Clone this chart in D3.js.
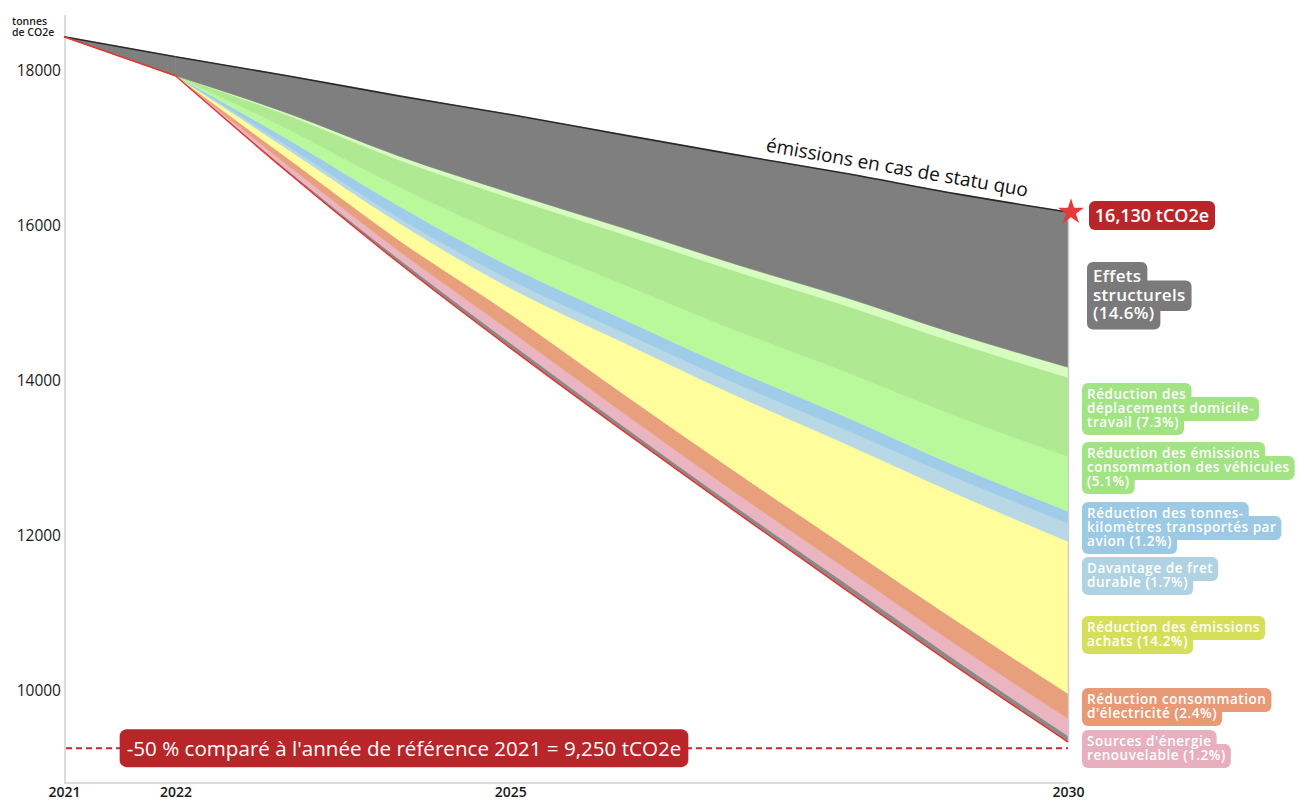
<!DOCTYPE html>
<html><head><meta charset="utf-8">
<script src="https://cdn.jsdelivr.net/npm/d3@7"></script>
<style>body{margin:0;background:#fff}svg{display:block}text{font-family:"Open Sans",sans-serif}</style>
</head><body><svg id="c" width="1304" height="801"></svg>
<script>
// ---- data (tonnes CO2e) ----
const years = [2021, 2022, 2023, 2024, 2025, 2026, 2027, 2028, 2029, 2030];
const remaining          = [18440, 17935, 16695, 15520, 14420, 13360, 12325, 11305, 10300, 9330];
const residualGray       = [0, 0, 25, 50, 65, 65, 65, 80, 80, 80];
const renewables         = [0, 0, 65, 105, 155, 170, 180, 195, 205, 220];
const electricity        = [0, 0, 90, 140, 220, 245, 270, 285, 310, 325];
const purchases          = [0, 0, 115, 220, 335, 660, 980, 1320, 1640, 1965];
const sustainableFreight = [0, 0, 40, 65, 105, 130, 155, 180, 205, 235];
const airFreight         = [0, 0, 90, 155, 170, 170, 170, 170, 155, 155];
const vehicles           = [0, 0, 130, 245, 375, 450, 515, 580, 645, 710];
const commuting          = [0, 0, 180, 350, 515, 645, 760, 855, 945, 1020];
const otherGreen         = [0, 0, 25, 50, 65, 80, 90, 105, 115, 130];
const structural         = [0, 245, 480, 775, 1010, 1200, 1410, 1600, 1810, 2005];
const yTicks = [10000, 12000, 14000, 16000, 18000];
const xTicks = [2021, 2022, 2025, 2030];
const target = 9250;
const statusQuoLabel = "16,130 tCO2e";
const targetLabel = "-50 % comparé à l'année de référence 2021 = 9,250 tCO2e";
const labels = [
  {lines:["Réduction des","déplacements domicile-","travail (7.3%)"], color:"#a2e384", top:383},
  {lines:["Réduction des émissions","consommation des véhicules","(5.1%)"], color:"#a2e384", top:442},
  {lines:["Réduction des tonnes-","kilomètres transportés par","avion  (1.2%)"], color:"#9cc9e3", top:502},
  {lines:["Davantage de fret","durable (1.7%)"], color:"#b0d3e3", top:557},
  {lines:["Réduction des émissions","achats (14.2%)"], color:"#d6df5a", top:616},
  {lines:["Réduction consommation","d'électricité (2.4%)"], color:"#e89a77", top:688},
  {lines:["Sources d'énergie","renouvelable (1.2%)"], color:"#e8b0bf", top:730}
];

const keys = ["remaining","residualGray","renewables","electricity","purchases","sustainableFreight","airFreight","vehicles","commuting","otherGreen","structural"];
const series = {remaining, residualGray, renewables, electricity, purchases, sustainableFreight, airFreight, vehicles, commuting, otherGreen, structural};
const colors = {residualGray:"#8a8a8a", renewables:"#ebb4c1", electricity:"#e89f7c", purchases:"#fffd9c",
  sustainableFreight:"#b8d8e6", airFreight:"#9fcce9", vehicles:"#b9f99b", commuting:"#afe991",
  otherGreen:"#d6fcc0", structural:"#7f7f7f"};

const table = years.map((yr, i) => { const o = {year: yr}; keys.forEach(k => o[k] = series[k][i]); return o; });
const stacked = d3.stack().keys(keys)(table);

const svg = d3.select("#c");
const x = d3.scaleLinear().domain([2021, 2030]).range([64, 1068]);
const y = d3.scaleLinear().domain([8800, 18720]).range([783, 15]);

// axes lines
svg.append("line").attr("x1",65).attr("x2",65).attr("y1",15).attr("y2",784).attr("stroke","#dcdcdc").attr("stroke-width",2);
svg.append("line").attr("x1",64).attr("x2",1070).attr("y1",783).attr("y2",783).attr("stroke","#dcdcdc").attr("stroke-width",2);

// areas: straight first year, smooth afterwards
const areaLin = d3.area().curve(d3.curveLinear).x(d => x(d.data.year)).y0(d => y(d[0])).y1(d => y(d[1]));
const areaSmooth = d3.area().curve(d3.curveMonotoneX).x(d => x(d.data.year)).y0(d => y(d[0])).y1(d => y(d[1]));
const gA = svg.append("g");
stacked.slice(1).forEach(s => {
  gA.append("path").attr("fill", colors[s.key]).attr("stroke", colors[s.key]).attr("stroke-width", 0.6).attr("d", areaLin(s.slice(0, 2)));
  gA.append("path").attr("fill", colors[s.key]).attr("stroke", colors[s.key]).attr("stroke-width", 0.6).attr("d", areaSmooth(s.slice(1)));
});
svg.append("line").attr("x1",x(2030)+0.5).attr("x2",x(2030)+0.5).attr("y1",y(stacked[stacked.length-1][9][1])).attr("y2",y(stacked[0][9][1]))
  .attr("stroke","#cfcfcf").attr("stroke-width",1.5);

// top and bottom lines
const lineLin = d3.line().curve(d3.curveLinear).x(d => x(d.data.year)).y(d => y(d[1]));
const lineSmooth = d3.line().curve(d3.curveMonotoneX).x(d => x(d.data.year)).y(d => y(d[1]));
function edge(s, color, w) {
  svg.append("path").attr("d", lineLin(s.slice(0, 2))).attr("fill","none").attr("stroke",color).attr("stroke-width",w);
  svg.append("path").attr("d", lineSmooth(s.slice(1))).attr("fill","none").attr("stroke",color).attr("stroke-width",w);
}
edge(stacked[stacked.length-1], "#2a2a2a", 1.6);
edge(stacked[0], "#e8352e", 1.5);

// y axis
const ya = svg.append("g").attr("transform","translate(65,0)")
  .call(d3.axisLeft(y).tickValues(yTicks).tickFormat(d3.format("d")).tickSize(0).tickPadding(4));
ya.select(".domain").remove();
ya.selectAll("text").attr("font-size",15.5).attr("font-weight",500).attr("fill","#1a1a1a").style("font-family","'Open Sans',sans-serif");

// x axis
const xa = svg.append("g").attr("transform","translate(0,783)")
  .call(d3.axisBottom(x).tickValues(xTicks).tickFormat(d3.format("d")).tickSize(0).tickPadding(4));
xa.select(".domain").remove();
xa.selectAll("text").attr("font-size",14).attr("font-weight",600).attr("fill","#1a1a1a").style("font-family","'Open Sans',sans-serif");

// unit label
svg.append("text").attr("x",12).attr("y",25).attr("font-size",10.5).attr("font-weight",600).attr("fill","#222").text("tonnes");
svg.append("text").attr("x",12).attr("y",36).attr("font-size",10.5).attr("font-weight",600).attr("fill","#222").text("de CO2e");

// status quo text along line
const sq = stacked[stacked.length-1];
const x0 = x(sq[0].data.year), y0 = y(sq[0][1]), x1 = x(sq[sq.length-1].data.year), y1 = y(sq[sq.length-1][1]);
const ang = Math.atan2(y1 - y0, x1 - x0) * 180 / Math.PI;
const tx = 896, ty = y0 + (y1 - y0) * (tx - x0) / (x1 - x0) - 8;
svg.append("text").attr("transform", `translate(${tx},${ty}) rotate(${ang})`).attr("text-anchor","middle")
  .attr("font-size",19).attr("font-weight",500).attr("fill","#111").text("émissions en cas de statu quo");

// target dashed line
svg.append("line").attr("x1",x(2021)+2).attr("x2",x(2030)).attr("y1",y(target)).attr("y2",y(target))
  .attr("stroke","#c8282c").attr("stroke-width",2).attr("stroke-dasharray","6,4");
const tg = svg.append("g");
const tt = tg.append("text").attr("x",404).attr("y",y(target)+7.5).attr("text-anchor","middle")
  .attr("font-size",20.6).attr("font-weight",500).attr("fill","#fff").text(targetLabel);
const tw = tt.node().getComputedTextLength();
tg.insert("rect","text").attr("x",404 - tw/2 - 7).attr("y",y(target)-19).attr("width",tw+14).attr("height",38).attr("rx",7).attr("fill","#b8262a");

// star + 16,130 label
svg.append("path").attr("d", d3.symbol().type(d3.symbolStar).size(210)())
  .attr("transform",`translate(${x1+3},${y1})`).attr("fill","#e8393a");
svg.append("rect").attr("x",1089).attr("y",201).attr("width",126).attr("height",29).attr("rx",6).attr("fill","#b8262a");
svg.append("text").attr("x",1152).attr("y",222).attr("text-anchor","middle").attr("font-size",18).attr("font-weight",600).attr("fill","#fff").text(statusQuoLabel);

// shaped label helper
function labelBox(lines, left, top, fs, lh, pad, fill, weight, ls) {
  const g = svg.append("g");
  const texts = lines.map((t, i) => g.append("text").attr("x", left + pad).attr("y", top + pad + lh * (i + 0.78))
    .attr("font-size", fs).attr("font-weight", weight).attr("letter-spacing", ls).attr("fill", "#fff").text(t));
  texts.forEach((t, i) => {
    const w = t.node().getComputedTextLength();
    g.insert("rect", "text").attr("x", left).attr("y", top + lh * i).attr("width", w + 2 * pad)
      .attr("height", lh + 2 * pad).attr("rx", 6).attr("fill", fill);
  });
}
labelBox(["Effets","structurels","(14.6%)"], 1087, 262, 17, 18.5, 6, "#7a7a7a", 600, 0.3);
labels.forEach(l => labelBox(l.lines, 1082, l.top, 13.5, 14, 5, l.color, 600, 0.55));
</script></body></html>
